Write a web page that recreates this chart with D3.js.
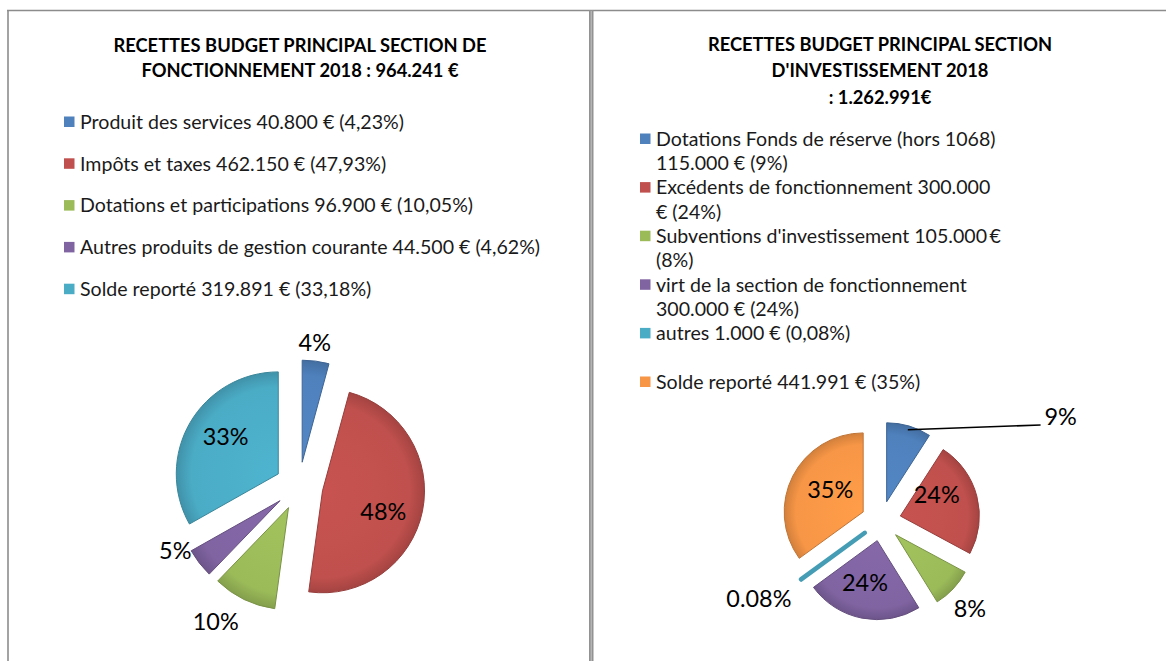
<!DOCTYPE html>
<html><head><meta charset="utf-8">
<script src="https://cdn.jsdelivr.net/npm/d3@7"></script>
<style>body{margin:0;background:#fff;} svg{display:block;}</style>
</head><body>
<svg id="chart" width="1166" height="661"></svg>
<script>
const FONT = "Lato, 'Open Sans', sans-serif";

// ---------- DATA ----------
const leftTitle = ["RECETTES BUDGET PRINCIPAL SECTION DE", "FONCTIONNEMENT 2018 : 964.241 €"];
const leftCategories = ["Produit des services", "Impôts et taxes", "Dotations et participations", "Autres produits de gestion courante", "Solde reporté"];
const leftValues = [40800, 462150, 96900, 44500, 319891];
const leftLegend = [
  ["Produit des services 40.800 € (4,23%)"],
  ["Impôts et taxes 462.150 € (47,93%)"],
  ["Dotations et participations 96.900 € (10,05%)"],
  ["Autres produits de gestion courante 44.500 € (4,62%)"],
  ["Solde reporté 319.891 € (33,18%)"]
];
const leftLabels = ["4%", "48%", "10%", "5%", "33%"];

const rightTitle = ["RECETTES BUDGET PRINCIPAL SECTION", "D'INVESTISSEMENT 2018", ": 1.262.991€"];
const rightCategories = ["Dotations Fonds de réserve (hors 1068)", "Excédents de fonctionnement", "Subventions d'investissement", "virt de la section de fonctionnement", "autres", "Solde reporté"];
const rightValues = [115000, 300000, 105000, 300000, 1000, 441991];
const rightLegend = [
  ["Dotations Fonds de réserve (hors 1068)", "115.000 € (9%)"],
  ["Excédents de fonctionnement 300.000", "€ (24%)"],
  ["Subventions d'investissement 105.000\u2009€", "(8%)"],
  ["virt de la section de fonctionnement", "300.000 € (24%)"],
  ["autres 1.000 € (0,08%)"],
  ["", "Solde reporté 441.991 € (35%)"]
];
const rightLabels = ["9%", "24%", "8%", "24%", "0.08%", "35%"];

const palette = ["#4f81bd", "#c0504d", "#9bbb59", "#8064a2", "#4bacc6", "#f79646"];

// ---------- LAYOUT ----------
const svg = d3.select("#chart");

function fitSize(text, target, weight) {
  const t = svg.append("text").attr("font-family", FONT).attr("font-weight", weight)
    .attr("font-size", 100).text(text);
  const w = t.node().getComputedTextLength();
  t.remove();
  return 100 * target / w;
}

const titleSize = (fitSize(leftTitle[0], 374, "bold") + fitSize(rightTitle[0], 344, "bold")) / 2;
const legendSize = (fitSize(leftLegend[0][0], 323, "normal") + fitSize(rightLegend[0][0], 341, "normal")) / 2;
const labelSize = fitSize("48%", 46, "normal");

// frame
const frame = svg.append("g");
frame.append("line").attr("x1", 7).attr("x2", 1166).attr("y1", 10.5).attr("y2", 10.5)
  .attr("stroke", "#8c8c8c").attr("stroke-width", 1.6);
frame.append("line").attr("x1", 8).attr("x2", 8).attr("y1", 10).attr("y2", 661)
  .attr("stroke", "#8c8c8c").attr("stroke-width", 1.6);
frame.append("rect").attr("x", 589).attr("y", 10).attr("width", 4.5).attr("height", 651).attr("fill", "#929292");
frame.append("line").attr("x1", 591.2).attr("x2", 591.2).attr("y1", 11).attr("y2", 661)
  .attr("stroke", "#c4c4c4").attr("stroke-width", 1);

function drawTitle(lines, cx, ys) {
  svg.append("g").selectAll("text").data(lines).join("text")
    .attr("x", cx).attr("y", (d, i) => ys[i]).attr("dy", "0.35em")
    .attr("text-anchor", "middle").attr("font-family", FONT).attr("font-weight", "bold")
    .attr("font-size", titleSize).attr("fill", "#000").text(d => d);
}

function drawLegend(entries, x, y0, step) {
  const g = svg.append("g");
  let row = 0;
  entries.forEach((lines, i) => {
    const first = lines.findIndex(l => l !== "");
    lines.forEach((l, j) => {
      const y = y0 + (row + j) * step;
      if (j === first) {
        g.append("rect").attr("x", x).attr("y", y - 5.5).attr("width", 10.5).attr("height", 10.5)
          .attr("fill", palette[i]);
      }
      if (l !== "") {
        g.append("text").attr("x", x + 16).attr("y", y).attr("dy", "0.35em")
          .attr("font-family", FONT).attr("font-size", legendSize).attr("fill", "#1a1a1a").text(l);
      }
    });
    row += lines.length;
  });
}

function drawPie(values, labels, cfg) {
  const pie = d3.pie().sort(null).value(d => d)(values);
  const arc = d3.arc().innerRadius(0).outerRadius(cfg.r);
  const g = svg.append("g").attr("transform", `translate(${cfg.cx},${cfg.cy})`);
  const defs = svg.append("defs");
  const dir = a => [Math.sin(a), -Math.cos(a)];

  pie.forEach((p, i) => {
    const mid = (p.startAngle + p.endAngle) / 2;
    const [ux, uy] = dir(mid);
    const ox = ux * cfg.explode, oy = uy * cfg.explode;
    const col = d3.color(palette[i]);
    const gid = `${cfg.id}-grad-${i}`;
    const grad = defs.append("radialGradient").attr("id", gid)
      .attr("gradientUnits", "userSpaceOnUse").attr("cx", 0).attr("cy", 0).attr("r", cfg.r);
    grad.append("stop").attr("offset", "0%").attr("stop-color", col.brighter(0.12));
    grad.append("stop").attr("offset", "85%").attr("stop-color", col);
    grad.append("stop").attr("offset", "100%").attr("stop-color", col.darker(0.45));
    const sg = g.append("g").attr("transform", `translate(${ox},${oy})`);
    const tiny = (p.endAngle - p.startAngle) < 0.02;
    sg.append("path").attr("d", arc(p)).attr("fill", `url(#${gid})`)
      .attr("stroke", tiny ? col.darker(0.25) : col.darker(0.7))
      .attr("stroke-width", tiny ? 4.5 : 1).attr("stroke-linejoin", "round");

    const lp = cfg.place[i];
    const la = mid + lp.a * Math.PI / 180;
    const [lx0, ly0] = dir(la);
    const lx = ox + lx0 * lp.k * cfg.r, ly = oy + ly0 * lp.k * cfg.r;
    g.append("text").attr("x", lx).attr("y", ly).attr("dy", "0.35em")
      .attr("text-anchor", "middle").attr("font-family", FONT).attr("font-size", labelSize)
      .attr("fill", "#000").text(labels[i]);
    if (lp.leader) {
      const sx = ox + ux * cfg.r * 0.95, sy = oy + uy * cfg.r * 0.95;
      g.append("line").attr("x1", sx).attr("y1", sy).attr("x2", lx - 20).attr("y2", ly + 8)
        .attr("stroke", "#000").attr("stroke-width", 1.6);
    }
  });
}

drawTitle(leftTitle, 300, [46, 71]);
drawTitle(rightTitle, 880, [45, 71, 98]);
drawLegend(leftLegend, 64, 122, 41.8);
drawLegend(rightLegend, 640, 139, 24.3);

drawPie(leftValues, leftLabels, {
  id: "left", cx: 299, cy: 486, r: 102, explode: 24,
  place: [{a: -1.6, k: 1.18}, {a: 7.5, k: 0.63}, {a: 6.6, k: 1.33}, {a: 12, k: 1.14}, {a: 4.7, k: 0.63}]
});
drawPie(rightValues, rightLabels, {
  id: "right", cx: 881, cy: 521, r: 79, explode: 20,
  place: [{a: 47.6, k: 2.45, leader: true}, {a: -15.3, k: 0.53}, {a: 1.7, k: 1.33},
          {a: 5.4, k: 0.55}, {a: 4.2, k: 1.58}, {a: 6.4, k: 0.5}]
});
</script>
</body></html>
